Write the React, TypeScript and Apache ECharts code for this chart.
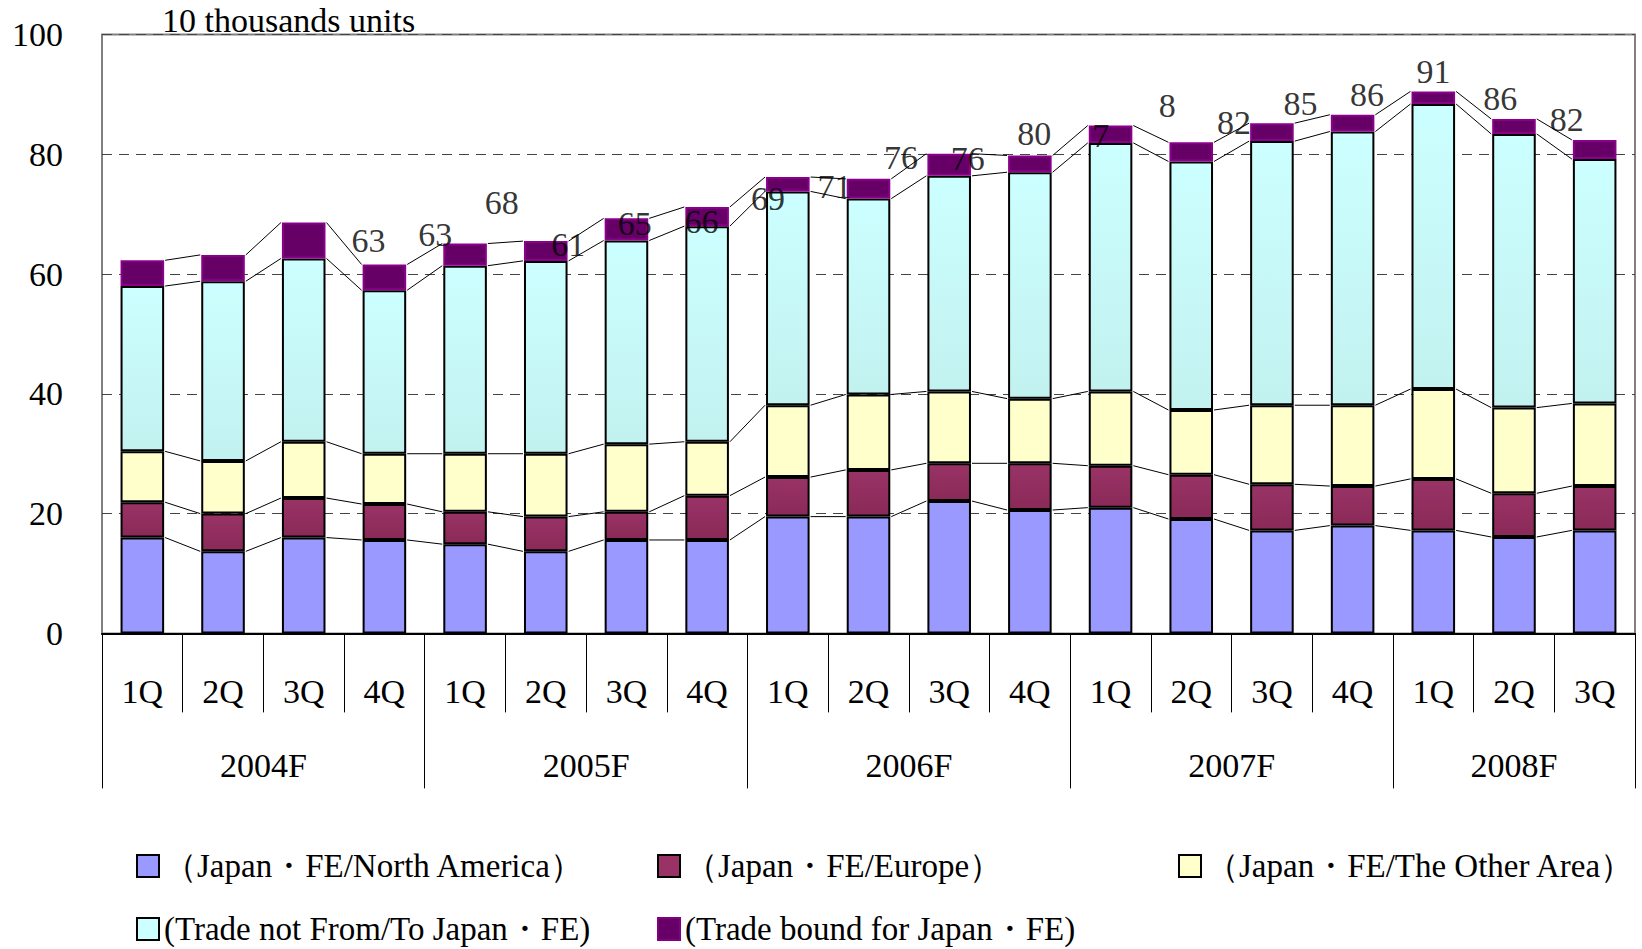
import React, { useEffect, useRef } from 'react';
import * as echarts from 'echarts';

// ---------- data (10 thousand units) ----------
const quarters = ['1Q','2Q','3Q','4Q','1Q','2Q','3Q','4Q','1Q','2Q','3Q','4Q','1Q','2Q','3Q','4Q','1Q','2Q','3Q'];
const years = ['2004F','2005F','2006F','2007F','2008F'];
const quartersPerYear = [4, 4, 4, 4, 3];

const seriesNames = [
  '（Japan・FE/North America）',
  '（Japan・FE/Europe）',
  '（Japan・FE/The Other Area）',
  '(Trade not From/To Japan・FE)',
  '(Trade bound for Japan・FE)',
];

const northAmerica = [16.0,13.7,16.0,15.6,14.9,13.7,15.6,15.6,19.5,19.5,22.1,20.6,21.0,19.1,17.2,18.0,17.2,16.1,17.2];
const europe       = [5.9,6.3,6.6,6.0,5.4,5.8,4.7,7.4,6.6,7.8,6.3,7.8,7.0,7.4,7.7,6.6,8.6,7.3,7.4];
const otherArea    = [8.5,8.8,9.4,8.4,9.7,10.5,11.3,9.0,12.0,12.6,12.0,10.8,12.4,10.8,13.2,13.5,15.0,14.3,13.8];
const tradeNot     = [27.6,30.0,30.6,27.3,31.4,32.2,34.0,36.0,35.7,32.7,36.0,37.8,41.5,41.5,44.1,45.7,47.6,45.7,40.8];
const tradeBound   = [4.3,4.4,6.0,4.3,3.7,3.3,3.7,3.2,2.4,3.3,3.7,2.8,2.9,3.2,3.0,2.8,2.1,2.5,3.2];

// total labels as they appear in the picture
const totalLabels = ['63','63','68','61','65','66','69','71','76','76','80','7','8','82','85','86','91','86','82'];

const yTicks = [0, 20, 40, 60, 80, 100];

const FONT = "'Liberation Serif', 'Times New Roman', serif";
const BAR_RATIO = 0.54;

export default function App() {
  const ref = useRef<HTMLDivElement>(null);

  useEffect(() => {
    document.body.style.margin = '0';
    if (!ref.current) return;
    const chart = echarts.init(ref.current, null, { renderer: 'svg' });

    const segs = [northAmerica, europe, otherArea, tradeNot, tradeBound];
    const cum: number[][] = [];
    segs.forEach((s, k) => {
      cum.push(s.map((v, i) => (k === 0 ? 0 : cum[k - 1][i]) + v));
    });
    const totals = cum[cum.length - 1];

    const lineData: number[][] = [];
    cum.forEach((c) => {
      for (let i = 0; i < c.length - 1; i++) lineData.push([i, c[i], c[i + 1]]);
    });

    const nQ = quartersPerYear.reduce((a, b) => a + b, 0);
    const boundaries: number[] = [0];
    quartersPerYear.forEach((q) => boundaries.push(boundaries[boundaries.length - 1] + q));
    const centers = quartersPerYear.map((q, i) => boundaries[i] + q / 2);

    const fills: any[] = [
      '#9999FF',
      new echarts.graphic.LinearGradient(0, 0, 0, 1, [
        { offset: 0, color: '#993366' },
        { offset: 1, color: '#8A2A58' },
      ]),
      '#FFFFCC',
      new echarts.graphic.LinearGradient(0, 0, 0, 1, [
        { offset: 0, color: '#CCFFFF' },
        { offset: 1, color: '#C2F2F0' },
      ]),
      '#660066',
    ];
    const borders = ['#000', '#000', '#000', '#000', '#8B008B'];
    const legendFills = ['#9999FF', '#993366', '#FFFFCC', '#CCFFFF', '#660066'];

    const legendItem = (k: number, fixed: boolean) => ({
      name: seriesNames[k],
      icon: 'rect',
      itemStyle: { color: legendFills[k], borderColor: k === 4 ? '#800080' : '#000', borderWidth: 2 },
      textStyle: fixed
        ? { fontFamily: FONT, fontSize: 33, color: '#000', width: 483, lineHeight: 34 }
        : { fontFamily: FONT, fontSize: 33, color: '#000', lineHeight: 34 },
    });

    const legendBase = {
      orient: 'horizontal',
      left: 136,
      width: 1500,
      itemWidth: 22,
      itemHeight: 22,
      itemGap: 10,
      padding: 0,
      selectedMode: false,
      textStyle: { fontFamily: FONT, fontSize: 33, color: '#000', lineHeight: 34 },
    };

    const option: any = {
      animation: false,
      backgroundColor: '#fff',
      title: {
        text: '10 thousands units',
        left: 162,
        top: 3,
        padding: 0,
        textStyle: { fontFamily: FONT, fontSize: 34, fontWeight: 'normal', color: '#000', lineHeight: 34 },
      },
      legend: [
        { ...legendBase, top: 849, data: [legendItem(0, true), legendItem(1, true), legendItem(2, false)] },
        { ...legendBase, top: 912, data: [legendItem(3, true), legendItem(4, false)] },
      ],
      grid: [
        { left: 102, right: 7, top: 34.5, bottom: 315.6, show: true, borderColor: '#808080', borderWidth: 2 },
        { left: 335.3, width: 1264.7, top: 34.5, bottom: 315.6, show: false },
      ],
      xAxis: [
        {
          type: 'category',
          gridIndex: 0,
          data: quarters,
          position: 'bottom',
          axisLine: { show: true, lineStyle: { color: '#000', width: 2 } },
          axisTick: { show: true, interval: 0, length: 79, lineStyle: { color: '#000', width: 1 } },
          axisLabel: { interval: 0, margin: 41, fontFamily: FONT, fontSize: 34, color: '#000' },
          splitLine: { show: false },
        },
        {
          type: 'value',
          gridIndex: 0,
          min: 0,
          max: nQ,
          position: 'bottom',
          axisLine: { show: false },
          axisTick: { show: true, customValues: boundaries, length: 155, lineStyle: { color: '#000', width: 1 } },
          axisLabel: {
            customValues: centers,
            margin: 115,
            fontFamily: FONT,
            fontSize: 34,
            color: '#000',
            formatter: (v: number) => {
              const idx = centers.findIndex((c) => Math.abs(c - v) < 1e-6);
              return idx >= 0 ? years[idx] : '';
            },
          },
          splitLine: { show: false },
        },
        {
          type: 'category',
          gridIndex: 1,
          data: quarters.map((_, i) => String(i)),
          show: false,
        },
      ],
      yAxis: [
        {
          type: 'value',
          gridIndex: 0,
          min: yTicks[0],
          max: yTicks[yTicks.length - 1],
          interval: 20,
          axisLine: { show: false },
          axisTick: { show: false },
          axisLabel: { margin: 39, fontFamily: FONT, fontSize: 34, color: '#000' },
          splitLine: { show: true, lineStyle: { color: '#444', type: [10, 7], width: 1 } },
        },
        { type: 'value', gridIndex: 1, min: 0, max: 100, show: false },
      ],
      series: [
        ...segs.map((s, k) => ({
          name: seriesNames[k],
          type: 'bar',
          stack: 'total',
          xAxisIndex: 0,
          yAxisIndex: 0,
          barWidth: `${BAR_RATIO * 100}%`,
          data: s,
          itemStyle: { color: fills[k], borderColor: borders[k], borderWidth: 2 },
          emphasis: { disabled: true },
        })),
        {
          name: 'seriesLines',
          type: 'custom',
          xAxisIndex: 0,
          yAxisIndex: 0,
          silent: true,
          data: lineData,
          encode: { x: 0, y: [1, 2] },
          renderItem: (params: any, api: any) => {
            const i = api.value(0);
            const a = api.coord([i, api.value(1)]);
            const b = api.coord([i + 1, api.value(2)]);
            const half = (api.size([1, 0])[0] * BAR_RATIO) / 2 + 1;
            return {
              type: 'line',
              shape: { x1: a[0] + half, y1: a[1], x2: b[0] - half, y2: b[1] },
              style: { stroke: '#000', lineWidth: 1 },
            };
          },
        },
        {
          name: 'totals',
          type: 'scatter',
          xAxisIndex: 2,
          yAxisIndex: 1,
          symbolSize: 0,
          silent: true,
          z: 5,
          data: totals,
          label: {
            show: true,
            position: 'inside',
            offset: [0, -20],
            fontFamily: FONT,
            fontSize: 34,
            color: '#000',
            formatter: (p: any) => totalLabels[p.dataIndex],
          },
        },
      ],
    };

    chart.setOption(option);
    return () => chart.dispose();
  }, []);

  return <div ref={ref} style={{ width: 1642, height: 949 }} />;
}
